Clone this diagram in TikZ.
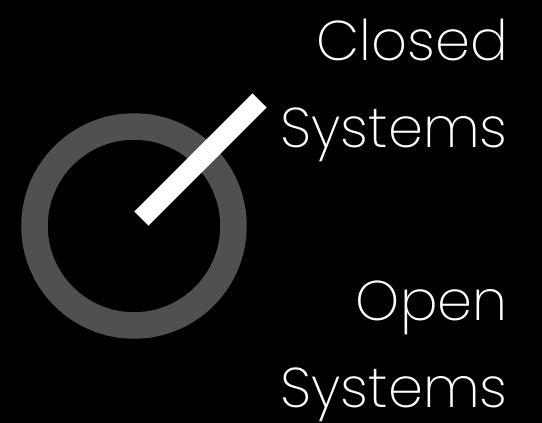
\documentclass[tikz,border=0pt]{standalone}
\usepackage{fontspec}
\setmainfont{Poppins}[UprightFont=* ExtraLight]
\definecolor{ringgrey}{HTML}{505050}
\begin{document}
\begin{tikzpicture}[x=1pt,y=-1pt,
  ring/.style={draw=ringgrey,line width=26.5pt},
  bar/.style={draw=white,line width=20pt,line cap=butt},
  label/.style={text=white,inner sep=0pt,align=right,font=\fontsize{56}{87}\selectfont,anchor=base east}]
\fill[black] (0,0) rectangle (542,423);
\useasboundingbox (0,0) rectangle (542,423);
\coordinate (c) at (134,226);
\draw[ring] (c) circle[radius=99.5];
\coordinate (b1) at (141.5,218.5);
\coordinate (b2) at (259.5,100.5);
\draw[bar] (b1) -- (b2);
\node[label] (closed) at (508,147) {Closed\\Systems};
\node[label] (open) at (508,407) {Open\\Systems};
\end{tikzpicture}
\end{document}
